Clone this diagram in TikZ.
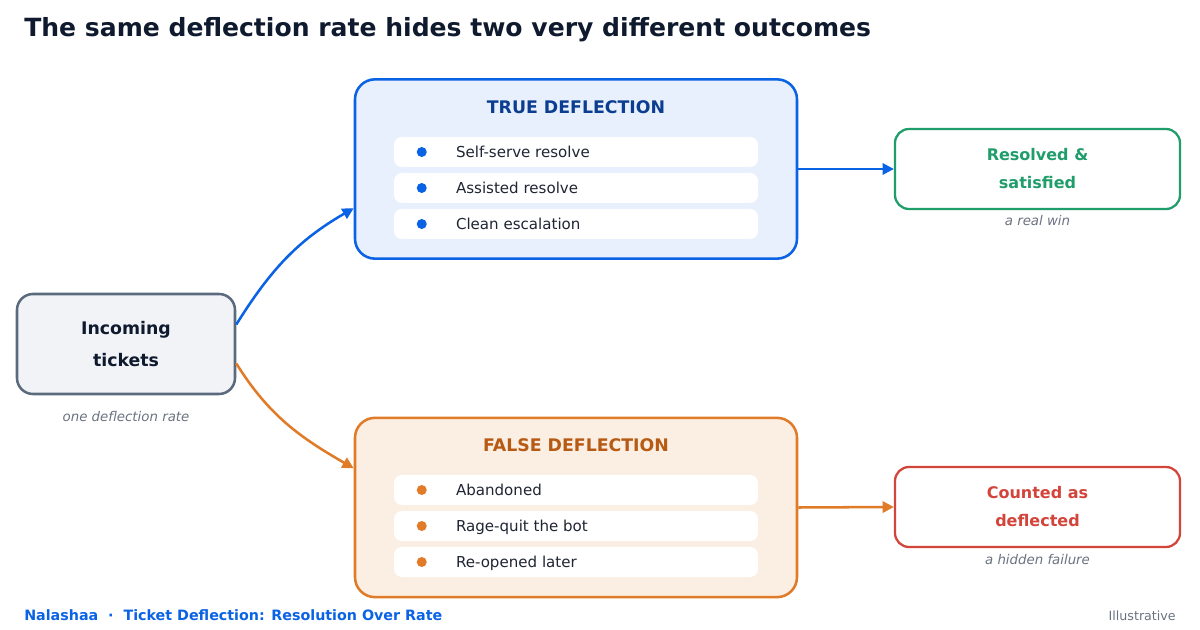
\documentclass[tikz,border=0pt]{standalone}
\usepackage{fontspec}
\setmainfont{DejaVu Sans}
\usetikzlibrary{arrows.meta}
\definecolor{ink}{HTML}{0F1A2E}
\definecolor{rowtext}{HTML}{1F2533}
\definecolor{slate}{HTML}{5B6B7E}
\definecolor{slatefill}{HTML}{F1F3F7}
\definecolor{notegray}{HTML}{6B7280}
\definecolor{tblue}{HTML}{0A62E5}
\definecolor{tbluefill}{HTML}{E8F0FD}
\definecolor{tbluedark}{HTML}{0B3D91}
\definecolor{forange}{HTML}{E07B28}
\definecolor{forangefill}{HTML}{FBEEE2}
\definecolor{forangedark}{HTML}{B75A14}
\definecolor{okgreen}{HTML}{1F9D6B}
\definecolor{badred}{HTML}{D3443A}
\begin{document}
\begin{tikzpicture}[x=0.75pt,y=-0.75pt,
	bigbox/.style={draw,line width=1.9pt,rounded corners=15pt,inner sep=0pt,minimum width=331.5pt,minimum height=134.5pt},
	endbox/.style={draw,fill=white,line width=1.7pt,rounded corners=10.5pt,inner sep=0pt,minimum width=213.75pt,minimum height=60pt,align=center,font=\bfseries\fontsize{12}{21}\selectfont},
	boxtitle/.style={font=\bfseries\fontsize{13}{15}\selectfont,inner sep=0pt},
	row/.style={fill=white,rounded corners=6pt,inner sep=0pt,minimum width=273pt,minimum height=22.5pt},
	dot/.style={circle,inner sep=0pt,minimum size=7.5pt},
	item/.style={anchor=west,inner sep=0pt,text height=8pt,text depth=0pt,text=rowtext,font=\fontsize{11.3}{13}\selectfont},
	note/.style={inner sep=0pt,text=notegray,font=\itshape\fontsize{10}{12}\selectfont},
	flow/.style={line width=1.9pt,-{Triangle[length=8.5pt,width=8.5pt]}}]
	\useasboundingbox (0,0) rectangle (1200,630);
	% title
	\node [anchor=base west,inner sep=0pt,text=ink,font=\bfseries\fontsize{18.8}{22}\selectfont] (title) at (24,37) {The same deflection rate hides two very different outcomes};
	% incoming
	\node [draw=slate,fill=slatefill,line width=1.9pt,rounded corners=12pt,inner sep=0pt,minimum width=163.5pt,minimum height=75pt,align=center,text=ink,font=\bfseries\fontsize{13}{24}\selectfont] (in) at (126,344) {Incoming\\tickets};
	\node [note] (innote) at (126,417) {one deflection rate};
	% true deflection
	\node [bigbox,draw=tblue,fill=tbluefill] (tru) at (576,169) {};
	\node [boxtitle,text=tbluedark] (trutitle) at (576,107) {TRUE DEFLECTION};
	\node [row] (t1) at (576,152) {};
	\node [row] (t2) at (576,188) {};
	\node [row] (t3) at (576,224) {};
	\foreach \r/\txt in {t1/Self-serve resolve,t2/Assisted resolve,t3/Clean escalation}{
		\node [dot,fill=tblue] at ([xshift=21pt]\r.west) {};
		\node [item] at ([xshift=46.5pt]\r.west) {\txt};
	}
	% false deflection
	\node [bigbox,draw=forange,fill=forangefill] (fal) at (576,507.5) {};
	\node [boxtitle,text=forangedark] (faltitle) at (576,445) {FALSE DEFLECTION};
	\node [row] (f1) at (576,490) {};
	\node [row] (f2) at (576,526) {};
	\node [row] (f3) at (576,562) {};
	\foreach \r/\txt in {f1/Abandoned,f2/Rage-quit the bot,f3/Re-opened later}{
		\node [dot,fill=forange] at ([xshift=21pt]\r.west) {};
		\node [item] at ([xshift=46.5pt]\r.west) {\txt};
	}
	% outcomes
	\node [endbox,draw=okgreen,text=okgreen] (res) at (1037.5,169) {Resolved \&\\satisfied};
	\node [note] (resnote) at (1037.5,221) {a real win};
	\node [endbox,draw=badred,text=badred] (cnt) at (1037.5,507) {Counted as\\deflected};
	\node [note] (cntnote) at (1037.5,560) {a hidden failure};
	% connectors
	\draw [flow,tblue] (in.10) to[out=58,in=210] (tru.190);
	\draw [flow,forange] (in.-10) to[out=-58,in=150] (fal.170);
	\draw [flow,tblue] (tru.east) -- (res.west);
	\draw [flow,forange] (fal.east) -- (cnt.west);
	% footer
	\node [anchor=base west,inner sep=0pt,text=tblue,font=\bfseries\fontsize{10.7}{12}\selectfont] (foot) at (24,620) {Nalashaa~~·~~Ticket Deflection: Resolution Over Rate};
	\node [anchor=base east,inner sep=0pt,text=notegray,font=\fontsize{9.5}{12}\selectfont] (tag) at (1176,620) {Illustrative};
\end{tikzpicture}
\end{document}
